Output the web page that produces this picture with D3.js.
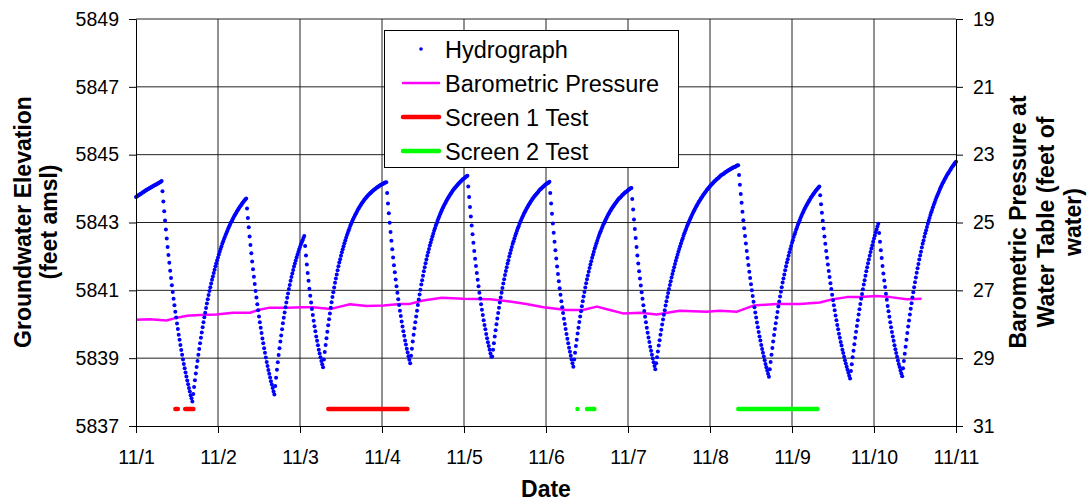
<!DOCTYPE html>
<html>
<head>
<meta charset="utf-8">
<script src="https://cdn.jsdelivr.net/npm/d3@7"></script>
<style>
  body { margin: 0; background: #fff; }
  svg { font-family: "Liberation Sans", Arial, sans-serif; }
</style>
</head>
<body>
<svg id="chart" width="1092" height="504"></svg>
<script>
// --- DATA ---
const startUtc = Date.UTC(2006, 10, 1);   // 11/1 00:00
const dayMs = 86400000;
const hydroStepMinutes = 15;              // logger interval

// Hydrograph readings (feet amsl), one every 15 minutes from 11/1 00:00
const hydroLead = [5843.75, 5843.77, 5843.79, 5843.80, 5843.82, 5843.84, 5843.85, 5843.87, 5843.89, 5843.90,
  5843.92, 5843.94, 5843.95, 5843.97, 5843.98, 5844.00, 5844.01, 5844.03, 5844.04, 5844.06,
  5844.07, 5844.09, 5844.10, 5844.11, 5844.13, 5844.14, 5844.16, 5844.17, 5844.19, 5844.20, 5844.22];

const hydroCycle1 = [5843.92, 5843.62, 5843.33, 5843.06, 5842.79, 5842.53, 5842.28, 5842.04, 5841.81, 5841.58,
  5841.36, 5841.15, 5840.95, 5840.75, 5840.56, 5840.37, 5840.20, 5840.02, 5839.86, 5839.69,
  5839.54, 5839.39, 5839.24, 5839.10, 5838.96, 5838.83, 5838.70, 5838.58, 5838.46, 5838.34,
  5838.23, 5838.12, 5838.02, 5837.91, 5837.82, 5837.72,
  5837.94, 5838.15, 5838.35, 5838.55, 5838.74, 5838.92, 5839.10, 5839.27, 5839.44, 5839.60,
  5839.76, 5839.91, 5840.06, 5840.21, 5840.34, 5840.48, 5840.61, 5840.74, 5840.86, 5840.98,
  5841.09, 5841.20, 5841.31, 5841.41, 5841.51, 5841.61, 5841.71, 5841.80, 5841.89, 5841.97,
  5842.06, 5842.14, 5842.22, 5842.29, 5842.37, 5842.44, 5842.51, 5842.57, 5842.64, 5842.70,
  5842.76, 5842.82, 5842.88, 5842.93, 5842.99, 5843.04, 5843.09, 5843.14, 5843.19, 5843.23,
  5843.27, 5843.32, 5843.36, 5843.40, 5843.44, 5843.48, 5843.51, 5843.55, 5843.58, 5843.62,
  5843.65, 5843.68, 5843.71];

const hydroCycle2 = [5843.41, 5843.13, 5842.86, 5842.59, 5842.34, 5842.09, 5841.85, 5841.62, 5841.40, 5841.19,
  5840.98, 5840.79, 5840.59, 5840.41, 5840.23, 5840.06, 5839.90, 5839.74, 5839.58, 5839.44,
  5839.29, 5839.16, 5839.02, 5838.89, 5838.77, 5838.65, 5838.54, 5838.43, 5838.32, 5838.22,
  5838.12, 5838.02, 5837.93,
  5838.18, 5838.42, 5838.66, 5838.88, 5839.09, 5839.29, 5839.49, 5839.67, 5839.85, 5840.03,
  5840.19, 5840.35, 5840.50, 5840.64, 5840.78, 5840.91, 5841.04, 5841.16, 5841.28, 5841.39,
  5841.50, 5841.60, 5841.70, 5841.79, 5841.88, 5841.97, 5842.05, 5842.13, 5842.21, 5842.28,
  5842.35, 5842.42, 5842.48, 5842.54, 5842.60];

const hydroCycle3 = [5842.31, 5842.03, 5841.76, 5841.51, 5841.28, 5841.05, 5840.84, 5840.64, 5840.45, 5840.27,
  5840.10, 5839.94, 5839.79, 5839.64, 5839.51, 5839.38, 5839.25, 5839.14, 5839.03, 5838.92,
  5838.82, 5838.73,
  5838.96, 5839.18, 5839.39, 5839.59, 5839.78, 5839.97, 5840.15, 5840.32, 5840.49, 5840.65,
  5840.80, 5840.94, 5841.08, 5841.22, 5841.35, 5841.47, 5841.59, 5841.71, 5841.82, 5841.92,
  5842.02, 5842.12, 5842.21, 5842.30, 5842.39, 5842.47, 5842.55, 5842.63, 5842.70, 5842.77,
  5842.84, 5842.91, 5842.97, 5843.03, 5843.09, 5843.14, 5843.19, 5843.24, 5843.29, 5843.34,
  5843.39, 5843.43, 5843.47, 5843.51, 5843.55, 5843.59, 5843.62, 5843.66, 5843.69, 5843.72,
  5843.75, 5843.78, 5843.81, 5843.83, 5843.86, 5843.88, 5843.91, 5843.93, 5843.95, 5843.97,
  5843.99, 5844.01, 5844.03, 5844.05, 5844.06, 5844.08, 5844.10, 5844.11, 5844.13, 5844.14,
  5844.15, 5844.17, 5844.18, 5844.19];

const hydroCycle4 = [5843.87, 5843.56, 5843.27, 5842.99, 5842.72, 5842.46, 5842.21, 5841.97, 5841.74, 5841.53,
  5841.32, 5841.12, 5840.93, 5840.74, 5840.57, 5840.40, 5840.24, 5840.08, 5839.93, 5839.79,
  5839.66, 5839.52, 5839.40, 5839.28, 5839.17, 5839.06, 5838.95, 5838.85,
  5839.07, 5839.28, 5839.49, 5839.69, 5839.88, 5840.06, 5840.23, 5840.40, 5840.57, 5840.73,
  5840.88, 5841.02, 5841.17, 5841.30, 5841.43, 5841.56, 5841.68, 5841.80, 5841.91, 5842.02,
  5842.12, 5842.22, 5842.32, 5842.41, 5842.50, 5842.59, 5842.67, 5842.76, 5842.83, 5842.91,
  5842.98, 5843.05, 5843.12, 5843.18, 5843.24, 5843.30, 5843.36, 5843.42, 5843.47, 5843.52,
  5843.57, 5843.62, 5843.66, 5843.71, 5843.75, 5843.79, 5843.83, 5843.87, 5843.91, 5843.94,
  5843.98, 5844.01, 5844.04, 5844.07, 5844.10, 5844.13, 5844.16, 5844.18, 5844.21, 5844.23,
  5844.26, 5844.28, 5844.30, 5844.32, 5844.34, 5844.36, 5844.38];

const hydroCycle5 = [5844.06, 5843.75, 5843.46, 5843.18, 5842.91, 5842.65, 5842.40, 5842.16, 5841.93, 5841.72,
  5841.51, 5841.31, 5841.12, 5840.93, 5840.76, 5840.59, 5840.43, 5840.27, 5840.12, 5839.98,
  5839.85, 5839.71, 5839.59, 5839.47, 5839.36, 5839.25, 5839.14, 5839.04, 5839.05,
  5839.25, 5839.44, 5839.64, 5839.82, 5840.00, 5840.17, 5840.33, 5840.49, 5840.64, 5840.79,
  5840.93, 5841.07, 5841.20, 5841.33, 5841.45, 5841.57, 5841.68, 5841.79, 5841.89, 5842.00,
  5842.09, 5842.19, 5842.28, 5842.37, 5842.45, 5842.53, 5842.61, 5842.68, 5842.76, 5842.83,
  5842.89, 5842.96, 5843.02, 5843.08, 5843.14, 5843.19, 5843.25, 5843.30, 5843.35, 5843.40,
  5843.44, 5843.49, 5843.53, 5843.57, 5843.61, 5843.65, 5843.69, 5843.72, 5843.76, 5843.79,
  5843.82, 5843.85, 5843.88, 5843.91, 5843.94, 5843.97, 5843.99, 5844.02, 5844.04, 5844.06,
  5844.08, 5844.11, 5844.13, 5844.15, 5844.16, 5844.18, 5844.20];

const hydroCycle6 = [5843.87, 5843.56, 5843.26, 5842.97, 5842.70, 5842.43, 5842.18, 5841.94, 5841.70, 5841.48,
  5841.27, 5841.06, 5840.87, 5840.68, 5840.50, 5840.33, 5840.16, 5840.01, 5839.86, 5839.71,
  5839.57, 5839.44, 5839.31, 5839.19, 5839.07, 5838.96, 5838.85, 5838.75,
  5838.96, 5839.16, 5839.36, 5839.54, 5839.73, 5839.90, 5840.07, 5840.23, 5840.38, 5840.53,
  5840.68, 5840.82, 5840.95, 5841.08, 5841.21, 5841.33, 5841.44, 5841.55, 5841.66, 5841.76,
  5841.86, 5841.96, 5842.05, 5842.14, 5842.23, 5842.31, 5842.39, 5842.46, 5842.54, 5842.61,
  5842.68, 5842.74, 5842.81, 5842.87, 5842.93, 5842.98, 5843.04, 5843.09, 5843.14, 5843.19,
  5843.24, 5843.28, 5843.33, 5843.37, 5843.41, 5843.45, 5843.49, 5843.52, 5843.56, 5843.59,
  5843.63, 5843.66, 5843.69, 5843.72, 5843.74, 5843.77, 5843.80, 5843.82, 5843.85, 5843.87,
  5843.89, 5843.91, 5843.93, 5843.95, 5843.97, 5843.99, 5844.01, 5844.02];

const hydroCycle7 = [5843.69, 5843.38, 5843.09, 5842.81, 5842.54, 5842.28, 5842.03, 5841.79, 5841.56, 5841.35,
  5841.14, 5840.94, 5840.75, 5840.56, 5840.39, 5840.22, 5840.06, 5839.90, 5839.75, 5839.61,
  5839.48, 5839.34, 5839.22, 5839.10, 5838.99, 5838.88, 5838.77, 5838.67,
  5838.85, 5839.03, 5839.20, 5839.37, 5839.53, 5839.69, 5839.84, 5839.99, 5840.14, 5840.28,
  5840.41, 5840.55, 5840.68, 5840.80, 5840.92, 5841.04, 5841.16, 5841.27, 5841.38, 5841.48,
  5841.58, 5841.68, 5841.78, 5841.87, 5841.96, 5842.05, 5842.14, 5842.22, 5842.30, 5842.38,
  5842.46, 5842.53, 5842.61, 5842.68, 5842.75, 5842.81, 5842.88, 5842.94, 5843.00, 5843.06,
  5843.12, 5843.17, 5843.23, 5843.28, 5843.33, 5843.38, 5843.43, 5843.48, 5843.52, 5843.57,
  5843.61, 5843.65, 5843.69, 5843.73, 5843.77, 5843.81, 5843.84, 5843.88, 5843.91, 5843.95,
  5843.98, 5844.01, 5844.04, 5844.07, 5844.10, 5844.13, 5844.15, 5844.18, 5844.21, 5844.23,
  5844.25, 5844.28, 5844.30, 5844.32, 5844.34, 5844.37, 5844.39, 5844.41, 5844.42, 5844.44,
  5844.46, 5844.48, 5844.50, 5844.51, 5844.53, 5844.54, 5844.56, 5844.57, 5844.59, 5844.60,
  5844.62, 5844.63, 5844.64, 5844.65, 5844.67, 5844.68, 5844.69];

const hydroCycle8 = [5844.40, 5844.11, 5843.84, 5843.58, 5843.32, 5843.07, 5842.83, 5842.60, 5842.38, 5842.16,
  5841.95, 5841.75, 5841.55, 5841.36, 5841.18, 5841.00, 5840.83, 5840.66, 5840.50, 5840.35,
  5840.20, 5840.05, 5839.91, 5839.77, 5839.64, 5839.52, 5839.39, 5839.27, 5839.16, 5839.05,
  5838.94, 5838.83, 5838.73, 5838.64, 5838.54, 5838.45,
  5838.67, 5838.89, 5839.10, 5839.30, 5839.49, 5839.68, 5839.86, 5840.03, 5840.20, 5840.36,
  5840.52, 5840.67, 5840.82, 5840.96, 5841.09, 5841.23, 5841.35, 5841.47, 5841.59, 5841.71,
  5841.82, 5841.92, 5842.02, 5842.12, 5842.22, 5842.31, 5842.40, 5842.48, 5842.57, 5842.65,
  5842.72, 5842.80, 5842.87, 5842.94, 5843.00, 5843.07, 5843.13, 5843.19, 5843.25, 5843.30,
  5843.36, 5843.41, 5843.46, 5843.51, 5843.55, 5843.60, 5843.64, 5843.68, 5843.73, 5843.76,
  5843.80, 5843.84, 5843.87, 5843.91, 5843.94, 5843.97, 5844.00, 5844.03, 5844.06];

const hydroCycle9 = [5843.80, 5843.54, 5843.29, 5843.05, 5842.82, 5842.59, 5842.37, 5842.16, 5841.96, 5841.76,
  5841.57, 5841.39, 5841.21, 5841.04, 5840.87, 5840.71, 5840.56, 5840.41, 5840.26, 5840.12,
  5839.98, 5839.85, 5839.72, 5839.60, 5839.48, 5839.37, 5839.25, 5839.15, 5839.04, 5838.94,
  5838.84, 5838.75, 5838.66, 5838.57, 5838.48, 5838.40,
  5838.62, 5838.82, 5839.03, 5839.22, 5839.41, 5839.60, 5839.78, 5839.95, 5840.12, 5840.29,
  5840.44, 5840.60, 5840.75, 5840.89, 5841.03, 5841.17, 5841.30, 5841.43, 5841.56, 5841.68,
  5841.80, 5841.91, 5842.02, 5842.13, 5842.23, 5842.33, 5842.43, 5842.53, 5842.62, 5842.71,
  5842.79, 5842.88, 5842.96];

const hydroCycle10 = [5842.69, 5842.43, 5842.18, 5841.95, 5841.72, 5841.50, 5841.29, 5841.10, 5840.90, 5840.72,
  5840.54, 5840.38, 5840.22, 5840.06, 5839.91, 5839.77, 5839.64, 5839.51, 5839.38, 5839.26,
  5839.15, 5839.04, 5838.93, 5838.83, 5838.74, 5838.64, 5838.55, 5838.47,
  5838.70, 5838.92, 5839.13, 5839.34, 5839.54, 5839.74, 5839.93, 5840.11, 5840.29, 5840.46,
  5840.62, 5840.79, 5840.94, 5841.09, 5841.24, 5841.38, 5841.52, 5841.65, 5841.78, 5841.91,
  5842.03, 5842.14, 5842.26, 5842.37, 5842.47, 5842.58, 5842.68, 5842.77, 5842.87, 5842.96,
  5843.05, 5843.13, 5843.22, 5843.30, 5843.37, 5843.45, 5843.52, 5843.59, 5843.66, 5843.73,
  5843.79, 5843.85, 5843.91, 5843.97, 5844.03, 5844.08, 5844.14, 5844.19, 5844.24, 5844.28,
  5844.33, 5844.38, 5844.42, 5844.46, 5844.50, 5844.54, 5844.58, 5844.62, 5844.66, 5844.69,
  5844.73, 5844.76, 5844.79];

// Barometric pressure at water table (feet of water), right axis
const baroDays = [0, 0.17, 0.37, 0.48, 0.62, 0.78, 0.98, 1.18, 1.39, 1.49, 1.63, 1.84, 2.04, 2.16, 2.37,
  2.49, 2.61, 2.81, 3.02, 3.22, 3.34, 3.50, 3.73, 3.99, 4.32, 4.56, 4.76, 4.97, 5.25, 5.45,
  5.62, 5.78, 5.94, 6.15, 6.35, 6.63, 6.96, 7.12, 7.33, 7.53, 7.81, 8.10, 8.34, 8.50, 8.67,
  8.83, 9.03, 9.20, 9.40, 9.58];
const baroFeet = [27.87, 27.85, 27.89, 27.82, 27.75, 27.73, 27.71, 27.66, 27.66, 27.58, 27.51, 27.51, 27.50, 27.50, 27.55,
  27.48, 27.41, 27.46, 27.45, 27.40, 27.40, 27.30, 27.22, 27.25, 27.26, 27.33, 27.40, 27.50, 27.58, 27.58,
  27.48, 27.58, 27.68, 27.66, 27.71, 27.60, 27.63, 27.60, 27.63, 27.45, 27.40, 27.40, 27.36, 27.26, 27.20,
  27.20, 27.17, 27.20, 27.26, 27.25];

// Pumping test periods (days after 11/1 00:00), plotted at a fixed elevation
const screen1Days = [[0.48, 0.51], [0.60, 0.70], [2.345, 3.31]];
const screen2Days = [[5.384, 5.384], [5.50, 5.59], [7.345, 8.31]];
const testLevel = 5837.5;

const leftTicks = [5837, 5839, 5841, 5843, 5845, 5847, 5849];
const rightTicks = [19, 21, 23, 25, 27, 29, 31];
const dateTickDays = [0, 1, 2, 3, 4, 5, 6, 7, 8, 9, 10];

// --- CHART ---
const svg = d3.select("#chart");
const plot = { left: 136, right: 956, top: 19, bottom: 426 };
const toDate = d => new Date(startUtc + d * dayMs);

const x = d3.scaleUtc()
  .domain([toDate(0), toDate(10)])
  .range([plot.left, plot.right]);
const yLeft = d3.scaleLinear().domain([5837, 5849]).range([plot.bottom, plot.top]);
const yRight = d3.scaleLinear().domain([31, 19]).range([plot.bottom, plot.top]);

const hydroValues = [].concat(hydroLead, hydroCycle1, hydroCycle2, hydroCycle3, hydroCycle4,
  hydroCycle5, hydroCycle6, hydroCycle7, hydroCycle8, hydroCycle9, hydroCycle10);
const hydro = hydroValues.map((v, i) => ({
  t: new Date(startUtc + i * hydroStepMinutes * 60000),
  v: v
}));
const baro = baroDays.map((d, i) => ({ t: toDate(d), v: baroFeet[i] }));

// gridlines
const grid = svg.append("g").attr("stroke", "#222").attr("stroke-width", 1);
grid.selectAll(".hgrid")
  .data(leftTicks.slice(1))
  .enter().append("line")
    .attr("x1", plot.left).attr("x2", plot.right)
    .attr("y1", d => yLeft(d)).attr("y2", d => yLeft(d));
grid.selectAll(".vgrid")
  .data(dateTickDays.slice(1, -1))
  .enter().append("line")
    .attr("x1", d => x(toDate(d))).attr("x2", d => x(toDate(d)))
    .attr("y1", plot.top).attr("y2", plot.bottom);

// barometric pressure line
svg.append("path")
  .datum(baro)
  .attr("fill", "none")
  .attr("stroke", "#ff00ff")
  .attr("stroke-width", 2.5)
  .attr("stroke-linejoin", "round")
  .attr("d", d3.line().x(d => x(d.t)).y(d => yRight(d.v)));

// test periods
function drawTests(periods, color) {
  const line = d3.line().x(d => x(toDate(d))).y(() => yLeft(testLevel));
  svg.append("g").selectAll("path")
    .data(periods)
    .enter().append("path")
      .attr("fill", "none")
      .attr("stroke", color)
      .attr("stroke-width", 4.5)
      .attr("stroke-linecap", "round")
      .attr("d", d => line(d));
}
drawTests(screen1Days, "#ff0000");
drawTests(screen2Days, "#00ff00");

// hydrograph dots
svg.append("g").selectAll("circle")
  .data(hydro)
  .enter().append("circle")
    .attr("cx", d => x(d.t))
    .attr("cy", d => yLeft(d.v))
    .attr("r", 2)
    .attr("fill", "#0000ff");

// axes
const xAxis = svg.append("g")
  .attr("transform", `translate(0,${plot.bottom})`)
  .call(d3.axisBottom(x)
    .tickValues(dateTickDays.map(toDate))
    .tickFormat(d3.utcFormat("%-m/%-d"))
    .tickSize(7).tickSizeOuter(0).tickPadding(17));

const leftAxis = svg.append("g")
  .attr("transform", `translate(${plot.left},0)`)
  .call(d3.axisLeft(yLeft).tickValues(leftTicks).tickFormat(d3.format("d"))
    .tickSize(7).tickSizeOuter(0).tickPadding(10));

const rightAxis = svg.append("g")
  .attr("transform", `translate(${plot.right},0)`)
  .call(d3.axisRight(yRight).tickValues(rightTicks).tickFormat(d3.format("d"))
    .tickSize(7).tickSizeOuter(0).tickPadding(10));

[xAxis, leftAxis, rightAxis].forEach(a => {
  a.attr("font-family", null).attr("font-size", null);
  a.selectAll("text").style("font-size", "19.5px").attr("fill", "#000");
  a.selectAll("line, path").attr("stroke", "#000");
});

// axis titles
svg.append("text")
  .attr("x", 546).attr("y", 497)
  .attr("text-anchor", "middle")
  .style("font-size", "23px").style("font-weight", "bold")
  .text("Date");

const leftTitle = svg.append("text")
  .attr("transform", "translate(31,222) rotate(-90)")
  .attr("text-anchor", "middle")
  .style("font-size", "23px").style("font-weight", "bold");
leftTitle.append("tspan").attr("x", 0).attr("dy", 0).text("Groundwater Elevation");
leftTitle.append("tspan").attr("x", 0).attr("dy", 26).text("(feet amsl)");

const rightTitle = svg.append("text")
  .attr("transform", "translate(1026,222) rotate(-90)")
  .attr("text-anchor", "middle")
  .style("font-size", "23px").style("font-weight", "bold");
rightTitle.append("tspan").attr("x", 0).attr("dy", 0).text("Barometric Pressure at");
rightTitle.append("tspan").attr("x", 0).attr("dy", 27.5).text("Water Table (feet of");
rightTitle.append("tspan").attr("x", 0).attr("dy", 27.5).text("water)");

// --- LEGEND ---
const legendItems = [
  { name: "Hydrograph", type: "dot", color: "#0000ff" },
  { name: "Barometric Pressure", type: "line", color: "#ff00ff", width: 2.5 },
  { name: "Screen 1 Test", type: "line", color: "#ff0000", width: 4.5 },
  { name: "Screen 2 Test", type: "line", color: "#00ff00", width: 4.5 }
];
const legend = svg.append("g");
legend.append("rect")
  .attr("x", 384.5).attr("y", 30.5)
  .attr("width", 294).attr("height", 137)
  .attr("fill", "#fff").attr("stroke", "#000").attr("stroke-width", 1);

const rows = legend.selectAll(".legend-row")
  .data(legendItems)
  .enter().append("g")
    .attr("transform", (d, i) => `translate(0,${49 + i * 34})`);

rows.filter(d => d.type === "dot").append("circle")
  .attr("cx", 421).attr("cy", 0).attr("r", 1.8).attr("fill", d => d.color);
rows.filter(d => d.type === "line").append("line")
  .attr("x1", 403).attr("x2", 439).attr("y1", 0).attr("y2", 0)
  .attr("stroke", d => d.color).attr("stroke-width", d => d.width)
  .attr("stroke-linecap", "round");
rows.append("text")
  .attr("x", 445).attr("y", 8.5)
  .style("font-size", "23.5px")
  .text(d => d.name);
</script>
</body>
</html>
